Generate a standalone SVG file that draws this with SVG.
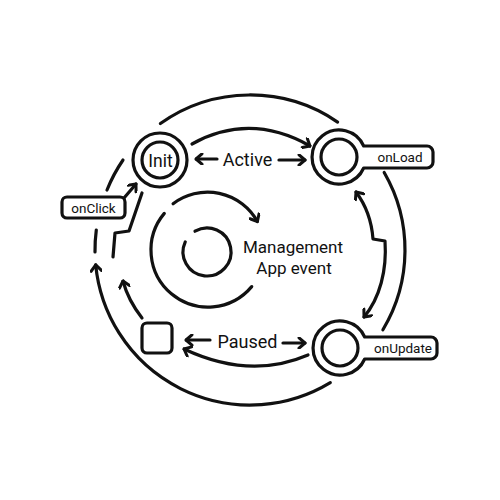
<svg xmlns="http://www.w3.org/2000/svg" width="500" height="500" viewBox="0 0 500 500">
<defs>
<style>
.ln{fill:none;stroke:#111;stroke-width:3.2;stroke-linecap:round;stroke-linejoin:round}
.nd{fill:#fff;stroke:#111;stroke-width:3.2;stroke-linejoin:round}
.tx{font-family:Roboto,"Liberation Sans",sans-serif;fill:#111;text-anchor:middle}
.big{font-size:18px}
.sm{font-size:13.5px}
</style>
<marker id="ah" viewBox="0 0 12 12" refX="10.5" refY="6" markerWidth="12" markerHeight="12" markerUnits="userSpaceOnUse" orient="auto-start-reverse">
<path d="M4.5,0.8 L10.5,6 L4.5,11.2" fill="none" stroke="#111" stroke-width="3" stroke-linecap="round" stroke-linejoin="round"/>
</marker>
</defs>
<rect width="500" height="500" fill="#fff"/>
<g id="connectors">
<path class="ln" d="M160.4,123.5 A155,155 0 0 1 337.6,122.1"/>
<path class="ln" d="M384.2,172.5 A155,155 0 0 1 382.9,329.8"/>
<path class="ln" d="M330.3,382.6 A155,155 0 0 1 95.7,264.9" marker-end="url(#ah)"/>
<path class="ln" d="M95,251.9 A155,155 0 0 1 96.3,230"/>
<path class="ln" d="M107,190 A155,155 0 0 1 123,160"/>
<path class="ln" d="M192,144 Q250,112 310,146" marker-end="url(#ah)"/>
<path class="ln" d="M356,192 Q371,212 373,239 L385,241 C387,270 380,298 364,317" marker-start="url(#ah)" marker-end="url(#ah)"/>
<path class="ln" d="M308,355 Q250,380 184,349" marker-end="url(#ah)"/>
<path class="ln" d="M142,318 Q128,300 123,281" marker-end="url(#ah)"/>
<path class="ln" d="M113,257 L115,233 L129,231 L142,193"/>
<path class="ln" d="M124,198 L136,184" marker-end="url(#ah)"/>
<path class="ln" d="M217,159 L196,159" marker-end="url(#ah)"/>
<path class="ln" d="M279,160 L305,160" marker-end="url(#ah)"/>
<path class="ln" d="M210,340 L186,340" marker-end="url(#ah)"/>
<path class="ln" d="M283,343 L305,343" marker-end="url(#ah)"/>
<text class="tx big" x="247.5" y="166">Active</text>
<text class="tx big" x="247.5" y="348">Paused</text>
<path class="ln" d="M173.1,203.7 A57,57 0 0 1 257.4,221.5" marker-end="url(#ah)"/>
<path class="ln" d="M251.7,286.6 A57,57 0 1 1 164.3,213.4"/>
</g>
<g id="node-init">
<circle class="nd" cx="160" cy="160" r="27"/>
<circle class="nd" cx="160" cy="160" r="18"/>
<text class="tx" x="160.5" y="166.5" font-size="17.5">Init</text>
</g>
<g id="node-onload">
<path class="nd" d="M363.7,146 H427 A6,6 0 0 1 433,152 V162 A6,6 0 0 1 427,168 H363.7 A27,27 0 1 1 363.7,146 Z"/>
<circle class="nd" cx="339" cy="157" r="18"/>
<text class="tx sm" x="400" y="162">onLoad</text>
</g>
<g id="node-onupdate">
<path class="nd" d="M364.7,337 H431 A6,6 0 0 1 437,343 V353 A6,6 0 0 1 431,359 H364.7 A27,27 0 1 1 364.7,337 Z"/>
<circle class="nd" cx="340" cy="348" r="18"/>
<text class="tx sm" x="403" y="353">onUpdate</text>
</g>
<g id="node-onclick">
<rect class="nd" x="62" y="197" width="63" height="21" rx="5"/>
<text class="tx sm" x="93.5" y="212.5">onClick</text>
</g>
<g id="node-square">
<rect class="nd" x="142" y="323" width="30" height="30" rx="5"/>
</g>
<g id="node-center">
<path class="ln" d="M195,231.2 A24,24 0 1 1 185.25,241.9"/>
<text class="tx" x="293" y="252.5" font-size="17">Management</text>
<text class="tx" x="294" y="274" font-size="17">App event</text>
</g>
</svg>
